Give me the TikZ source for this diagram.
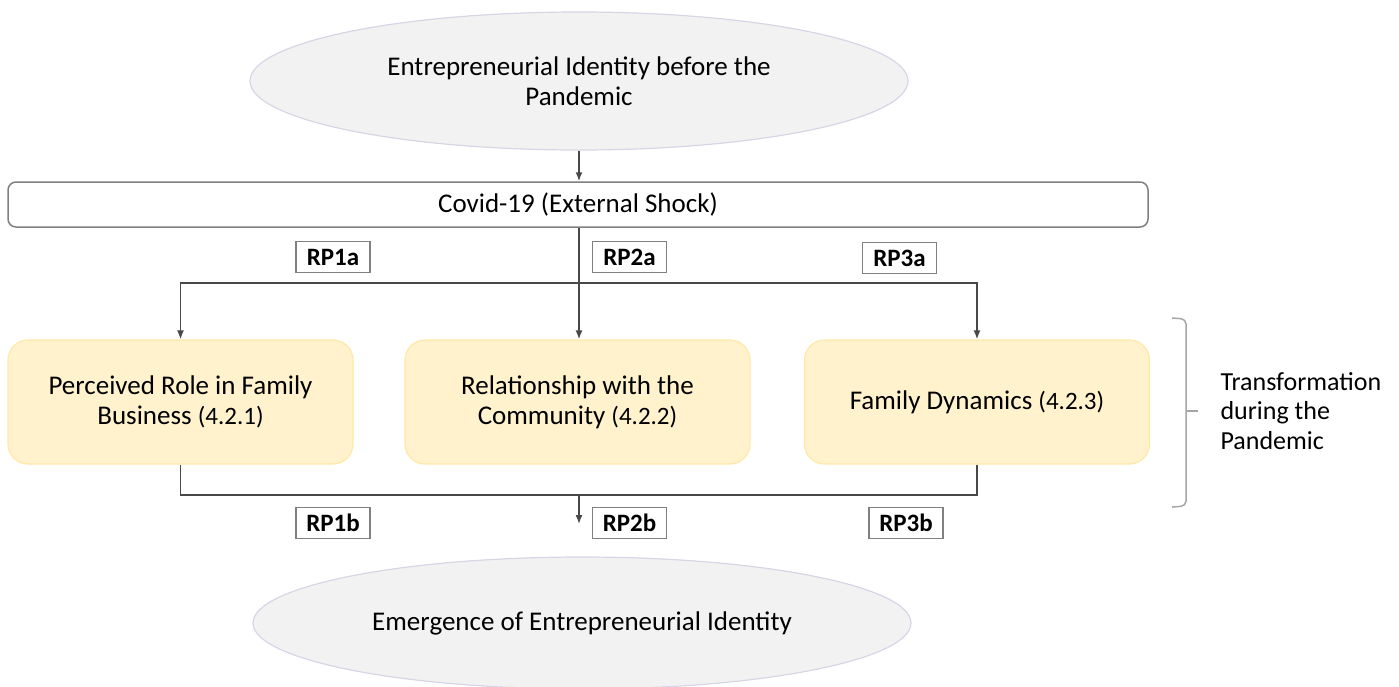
\documentclass[tikz,border=0pt]{standalone}
\usepackage{fontspec}
\setmainfont{Carlito}
\usetikzlibrary{shapes.geometric,arrows.meta}
\definecolor{ellfill}{HTML}{F2F2F2}
\definecolor{elldraw}{HTML}{D6D6E6}
\definecolor{boxfill}{HTML}{FFF2CC}
\definecolor{boxdraw}{HTML}{FFE8A8}
\definecolor{linegray}{HTML}{484848}
\definecolor{framegray}{HTML}{808080}
\definecolor{bracegray}{HTML}{A6A6A6}
\newcommand\sectionref[1]{{\fontsize{25}{30}\selectfont #1}}
\tikzset{
  stage/.style={ellipse, fill=ellfill, draw=elldraw, line width=1.2pt,
    minimum width=658pt, minimum height=138pt, align=center,
    font=\fontsize{27}{30}\selectfont},
  shockbar/.style={rounded corners=8pt, draw=framegray, line width=1.5pt, fill=white,
    minimum width=1140pt, minimum height=45pt, font=\fontsize{27}{30}\selectfont},
  theme/.style={rounded corners=20pt, fill=boxfill, draw=boxdraw, line width=1.2pt,
    minimum width=345pt, minimum height=124pt, align=center,
    font=\fontsize{27}{30}\selectfont},
  rp/.style={draw=framegray, line width=1.5pt, fill=white, inner sep=0pt,
    minimum width=74pt, minimum height=31pt, font=\fontsize{25}{28}\selectfont\bfseries},
  link/.style={draw=linegray, line width=1.6pt},
  arr/.style={link, -{Latex[length=9pt,width=7pt]}}
}
\begin{document}
\begin{tikzpicture}[x=1pt,y=-1pt]
\useasboundingbox (0,0) rectangle (1399,686);

% top and bottom identity stages
\node[stage] (before) at (579,81) {Entrepreneurial Identity before the\\Pandemic};
\node[stage, minimum height=132pt] (after) at (582,623) {Emergence of Entrepreneurial Identity};

% external shock
\node[shockbar] (covid) at (578,204.5) {Covid-19 (External Shock)};

% three transformation themes
\node[theme] (b1) at (180.5,402) {Perceived Role in Family\\Business \sectionref{(4.2.1)}};
\node[theme] (b2) at (577.5,402) {Relationship with the\\Community \sectionref{(4.2.2)}};
\node[theme] (b3) at (977,402) {Family Dynamics \sectionref{(4.2.3)}};

% connectors
\coordinate (split) at (579,283);
\coordinate (join) at (579,495);
\coordinate (out) at (579,524);
\draw[arr] (before.south) -- (before.south |- covid.north);
\draw[link] (covid.south -| split) -- (split);
\draw[arr] (split) -- (split |- b2.north);
\draw[arr] (split) -| (b1.north);
\draw[arr] (split) -| (b3.north);
\draw[link] (b1.south) |- (join);
\draw[link] (b3.south) |- (join);
\draw[arr] (join) -- (out);

% research propositions
\node[rp] (rp1a) at (333,257) {RP1a};
\node[rp] (rp2a) at (629.5,257) {RP2a};
\node[rp] (rp3a) at (899.5,258) {RP3a};
\node[rp] (rp1b) at (333,523) {RP1b};
\node[rp] (rp2b) at (629.5,523) {RP2b};
\node[rp] (rp3b) at (906,523) {RP3b};

% bracket grouping the three themes
\draw[bracegray, line width=1.5pt, rounded corners=5pt]
  (1172,318) -- (1186,319) -- (1186,506) -- (1172,507);
\draw[bracegray, line width=1.5pt] (1186,411) -- (1198,411);
\node[anchor=west, align=left, font=\fontsize{26}{29.5}\selectfont] (phase) at (1217,411)
  {Transformation\\during the\\Pandemic};
\end{tikzpicture}
\end{document}
